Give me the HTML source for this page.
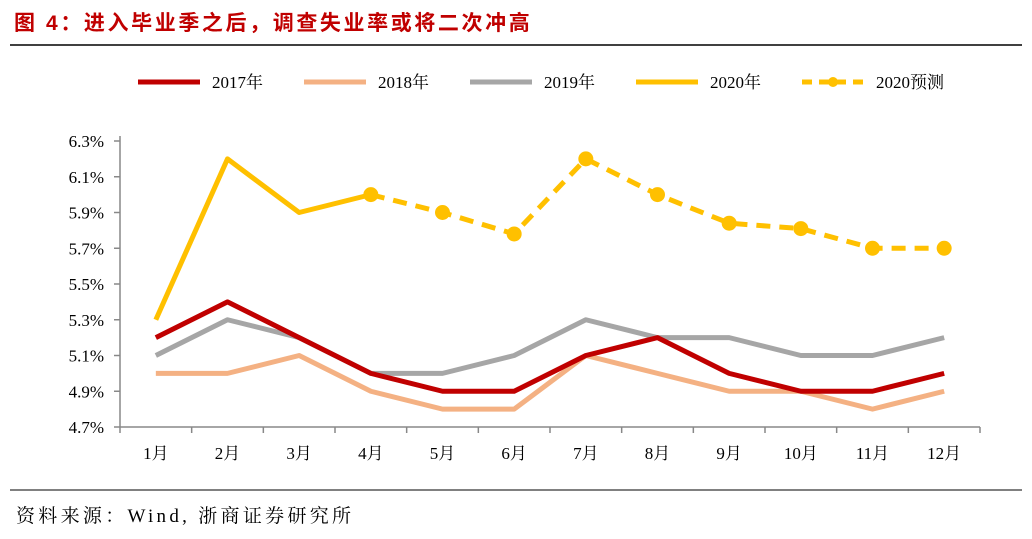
<!DOCTYPE html>
<html><head><meta charset="utf-8"><style>
body{margin:0;background:#fff;width:1032px;height:534px;overflow:hidden;font-family:"Liberation Serif","Noto Serif CJK SC",serif}
</style></head><body>
<svg width="1032" height="534">
<text x="14" y="30" font-size="21" letter-spacing="2.6" font-weight="bold" fill="#c00000" font-family="Liberation Sans,Noto Sans CJK SC,sans-serif">图 4：进入毕业季之后，调查失业率或将二次冲高</text>
<line x1="10" y1="45" x2="1022" y2="45" stroke="#000" stroke-width="1.5"/>
<g id="legend" font-size="17"></g>
<g id="plot"></g>
<line x1="10" y1="490" x2="1022" y2="490" stroke="#000" stroke-width="1"/>
<text x="16" y="522" font-size="19" letter-spacing="3.3">资料来源：Wind, 浙商证券研究所</text>
</svg>
<script>
const months=['1月','2月','3月','4月','5月','6月','7月','8月','9月','10月','11月','12月'];
const yTicks=[4.7,4.9,5.1,5.3,5.5,5.7,5.9,6.1,6.3];
const s2017=[5.2,5.4,5.2,5.0,4.9,4.9,5.1,5.2,5.0,4.9,4.9,5.0];
const s2018=[5.0,5.0,5.1,4.9,4.8,4.8,5.1,5.0,4.9,4.9,4.8,4.9];
const s2019=[5.1,5.3,5.2,5.0,5.0,5.1,5.3,5.2,5.2,5.1,5.1,5.2];
const s2020=[5.3,6.2,5.9,6.0];
const sForecast=[null,null,null,6.0,5.9,5.78,6.2,6.0,5.84,5.81,5.7,5.7];
const NS='http://www.w3.org/2000/svg';
const plot=document.getElementById('plot'),leg=document.getElementById('legend');
const X0=120,X1=980,Y0=427,Y1=141;
const x=i=>X0+(i+0.5)*(X1-X0)/months.length;
const y=v=>Y0-(v-4.7)/(6.3-4.7)*(Y0-Y1);
function mk(t,a,p){const e=document.createElementNS(NS,t);for(const k in a)e.setAttribute(k,a[k]);p.appendChild(e);return e;}
let e;
e=mk('line',{x1:X0,y1:Y1-5,x2:X0,y2:Y0,stroke:'#888','stroke-width':1.5},plot);


e=mk('line',{x1:X0,y1:Y0,x2:X1,y2:Y0,stroke:'#888','stroke-width':1.5},plot);


yTicks.forEach(v=>{mk('line',{x1:X0-6,y1:y(v),x2:X0,y2:y(v),stroke:'#888','stroke-width':1.5},plot);
e=mk('text',{x:X0-16,y:y(v)+6,'font-size':17,'text-anchor':'end'},plot);e.textContent=v.toFixed(1)+'%';

});
for(let i=0;i<=months.length;i++){const xx=X0+i*(X1-X0)/months.length;mk('line',{x1:xx,y1:Y0,x2:xx,y2:Y0+6,stroke:'#888','stroke-width':1.5},plot);}
months.forEach((m,i)=>{e=mk('text',{x:x(i),y:Y0+32,'font-size':17,'text-anchor':'middle'},plot);e.textContent=m;

});
function line(data,color,name,dash,dots){const pts=[];data.forEach((v,i)=>{if(v!=null)pts.push(x(i)+','+y(v));});
const p=mk('polyline',{points:pts.join(' '),fill:'none',stroke:color,'stroke-width':5,'stroke-linejoin':'round'},plot);
if(dash)p.setAttribute('stroke-dasharray',dash);


if(dots)data.forEach((v,i)=>{if(v!=null){const c=mk('circle',{cx:x(i),cy:y(v),r:7.5,fill:color},plot);

}});}
line(s2019,'#a6a6a6','series-2019');
line(s2018,'#f4b183','series-2018');
line(s2017,'#c00000','series-2017');
line(sForecast,'#ffc000','series-2020-forecast','14,9',true);
line(s2020,'#ffc000','series-2020');
const L=[['2017年','#c00000',138,null],['2018年','#f4b183',304,null],['2019年','#a6a6a6',470,null],['2020年','#ffc000',636,null],['2020预测','#ffc000',802,'10,7']];
L.forEach(l=>{const g=mk('g',{},leg);
const ln=mk('line',{x1:l[2],y1:82,x2:l[2]+62,y2:82,stroke:l[1],'stroke-width':5},g);if(l[3]){ln.setAttribute('stroke-dasharray',l[3]);mk('circle',{cx:l[2]+31,cy:82,r:5,fill:l[1]},g);}
const t=mk('text',{x:l[2]+74,y:88,'font-size':17},g);t.textContent=l[0];});
</script>
</body></html>
